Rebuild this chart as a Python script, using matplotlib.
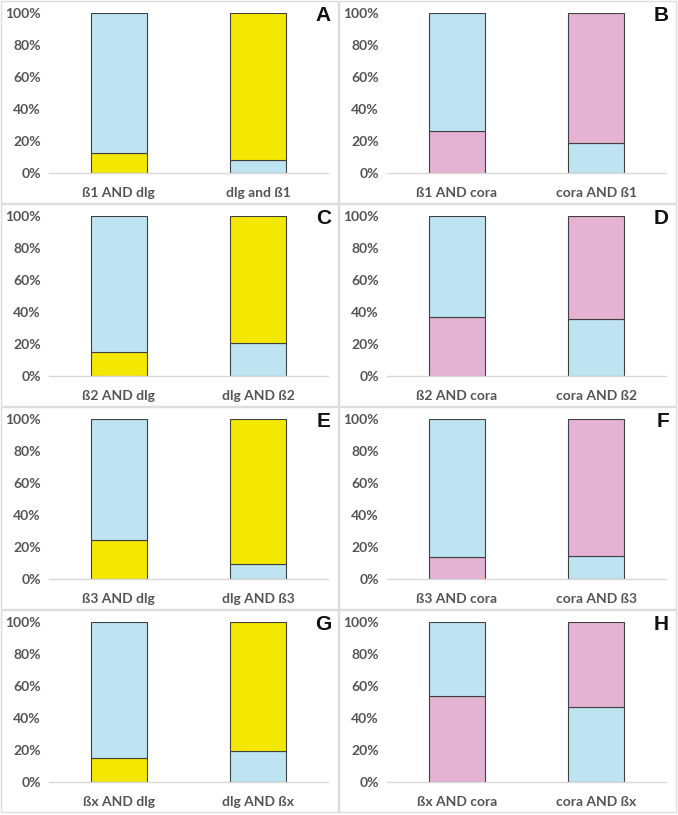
import matplotlib.pyplot as plt
import matplotlib.patches as mpatches
import numpy as np

# data (percent of the lower segment of each bar)
letters = ['A', 'B', 'C', 'D', 'E', 'F', 'G', 'H']
categories = [
    ['ß1 AND dlg', 'dlg and ß1'],
    ['ß1 AND cora', 'cora AND ß1'],
    ['ß2 AND dlg', 'dlg AND ß2'],
    ['ß2 AND cora', 'cora AND ß2'],
    ['ß3 AND dlg', 'dlg AND ß3'],
    ['ß3 AND cora', 'cora AND ß3'],
    ['ßx AND dlg', 'dlg AND ßx'],
    ['ßx AND cora', 'cora AND ßx'],
]
lower_pct = [
    [12.5, 8.0],
    [26.0, 19.0],
    [15.0, 20.5],
    [37.0, 35.5],
    [24.5, 9.5],
    [14.0, 14.5],
    [15.0, 19.5],
    [53.5, 47.0],
]

blue = '#BDE4F0'
yellow = '#F5E800'
pink = '#E4B2D3'
partner = [yellow, pink, yellow, pink, yellow, pink, yellow, pink]

W, H = 678, 815
fig = plt.figure(figsize=(W / 100, H / 100), dpi=100)
fig.patch.set_facecolor('white')

panel_x = [1, 339]
panel_y = [1, 204, 407, 610]
panel_w = [337, 337]
panel_h = [202, 202, 202, 202]

def px(x, y, w, h):
    # pixel box (top-left origin) -> figure fraction
    return [x / W, 1 - (y + h) / H, w / W, h / H]

tick_font = dict(family='Lato', weight='bold', size=10, color='#555555')

for i in range(8):
    row, col = i // 2, i % 2
    x0, y0 = panel_x[col], panel_y[row]
    # light panel frame
    fig.patches.append(mpatches.Rectangle(
        (x0 / W, 1 - (y0 + panel_h[row]) / H), panel_w[col] / W, panel_h[row] / H,
        transform=fig.transFigure, fill=False, edgecolor='#DDDDDD', linewidth=1.0))

    ax = fig.add_axes(px(x0 + 48, y0 + 12, 279, 160))
    lo = np.array(lower_pct[i])
    hi = 100 - lo
    xs = np.arange(2)
    lo_colors = [partner[i], blue]
    hi_colors = [blue, partner[i]]
    ax.bar(xs, lo, width=0.4, color=lo_colors, edgecolor='#404040', linewidth=0.8)
    ax.bar(xs, hi, width=0.4, bottom=lo, color=hi_colors, edgecolor='#404040', linewidth=0.8)

    ax.set_xlim(-0.5, 1.5)
    ax.set_ylim(0, 100)
    ax.set_yticks(np.arange(0, 101, 20))
    ax.set_yticklabels([f'{v}%' for v in range(0, 101, 20)], **tick_font)
    ax.set_xticks(xs)
    ax.set_xticklabels(categories[i], **tick_font)
    ax.tick_params(length=0)
    ax.tick_params(axis='x', pad=10)
    ax.tick_params(axis='y', pad=6)
    for s in ['top', 'right', 'left']:
        ax.spines[s].set_visible(False)
    ax.spines['bottom'].set_color('#D9D9D9')
    ax.spines['bottom'].set_linewidth(1.0)
    ax.set_facecolor('none')

    fig.text((x0 + panel_w[col] - 7) / W, 1 - (y0 + 5) / H, letters[i],
             ha='right', va='top', family='Liberation Sans', weight='bold',
             size=15, color='#111111')

fig.savefig('out.png', dpi=100)
